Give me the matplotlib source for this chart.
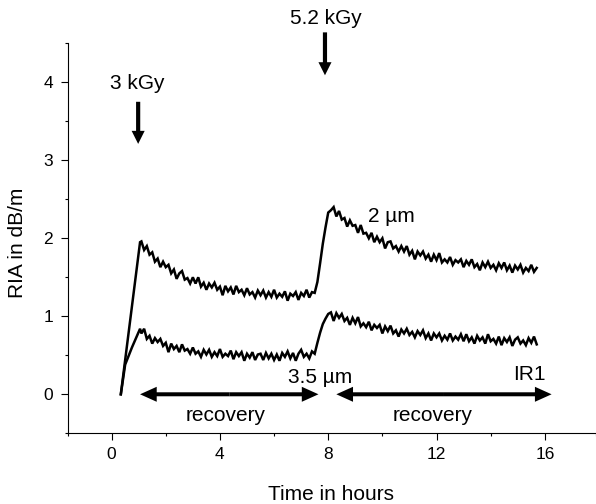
import matplotlib
matplotlib.use("Agg")
import matplotlib.pyplot as plt

plt.rcParams['font.family'] = ['Liberation Sans', 'DejaVu Sans']

# ---- data (time in hours, RIA in dB/m) ----
time_h = [0.34, 0.5, 0.75, 0.9, 1.05,
          1.1, 1.2, 1.3, 1.4, 1.5, 1.6, 1.7, 1.8, 1.9, 2.0,
          2.1, 2.2, 2.3, 2.4, 2.5, 2.6, 2.7, 2.8, 2.9, 3.0,
          3.1, 3.2, 3.3, 3.4, 3.5, 3.6, 3.7, 3.8, 3.9, 4.0,
          4.1, 4.2, 4.3, 4.4, 4.5, 4.6, 4.7, 4.8, 4.9, 5.0,
          5.1, 5.2, 5.3, 5.4, 5.5, 5.6, 5.7, 5.8, 5.9, 6.0,
          6.1, 6.2, 6.3, 6.4, 6.5, 6.6, 6.7, 6.8, 6.9, 7.0,
          7.1, 7.2, 7.3, 7.4,
          7.5, 7.6, 7.7, 7.8, 7.9, 8.0,
          8.1, 8.2, 8.3, 8.4, 8.5, 8.6, 8.7, 8.8, 8.9, 9.0,
          9.1, 9.2, 9.3, 9.4, 9.5, 9.6, 9.7, 9.8, 9.9, 10.0,
          10.1, 10.2, 10.3, 10.4, 10.5, 10.6, 10.7, 10.8, 10.9, 11.0,
          11.1, 11.2, 11.3, 11.4, 11.5, 11.6, 11.7, 11.8, 11.9, 12.0,
          12.1, 12.2, 12.3, 12.4, 12.5, 12.6, 12.7, 12.8, 12.9, 13.0,
          13.1, 13.2, 13.3, 13.4, 13.5, 13.6, 13.7, 13.8, 13.9, 14.0,
          14.1, 14.2, 14.3, 14.4, 14.5, 14.6, 14.7, 14.8, 14.9, 15.0,
          15.1, 15.2, 15.3, 15.4, 15.5, 15.6, 15.7]

ria_2um = [0.00, 0.44, 1.13, 1.54, 1.95,
           1.96, 1.85, 1.90, 1.79, 1.82, 1.70, 1.74, 1.63, 1.70, 1.63,
           1.66, 1.55, 1.60, 1.48, 1.55, 1.58, 1.47, 1.49, 1.42, 1.50,
           1.42, 1.50, 1.38, 1.43, 1.34, 1.42, 1.37, 1.43, 1.34, 1.38,
           1.27, 1.39, 1.32, 1.37, 1.28, 1.39, 1.31, 1.34, 1.27, 1.36,
           1.28, 1.31, 1.24, 1.33, 1.27, 1.33, 1.24, 1.31, 1.25, 1.34,
           1.24, 1.29, 1.25, 1.32, 1.20, 1.29, 1.26, 1.31, 1.21, 1.30,
           1.26, 1.34, 1.24, 1.31,
           1.30, 1.44, 1.68, 1.93, 2.14, 2.33,
           2.36, 2.40, 2.28, 2.35, 2.24, 2.26, 2.15, 2.23, 2.16, 2.17,
           2.07, 2.17, 2.06, 2.07, 2.00, 2.07, 1.95, 2.02, 1.95, 2.00,
           1.87, 1.95, 1.96, 1.87, 1.90, 1.83, 1.90, 1.83, 1.90, 1.79,
           1.84, 1.73, 1.83, 1.78, 1.83, 1.74, 1.79, 1.70, 1.79, 1.72,
           1.81, 1.69, 1.73, 1.69, 1.76, 1.66, 1.72, 1.69, 1.73, 1.63,
           1.71, 1.66, 1.73, 1.63, 1.67, 1.59, 1.69, 1.63, 1.70, 1.62,
           1.66, 1.59, 1.68, 1.62, 1.69, 1.59, 1.65, 1.56, 1.65, 1.60,
           1.66, 1.56, 1.62, 1.58, 1.66, 1.57, 1.62]

ria_35um = [0.00, 0.38, 0.60, 0.72, 0.84,
            0.78, 0.84, 0.71, 0.75, 0.65, 0.72, 0.67, 0.71, 0.62, 0.66,
            0.54, 0.65, 0.58, 0.62, 0.54, 0.64, 0.56, 0.58, 0.52, 0.60,
            0.52, 0.55, 0.48, 0.57, 0.51, 0.57, 0.48, 0.54, 0.49, 0.58,
            0.48, 0.52, 0.49, 0.56, 0.45, 0.54, 0.49, 0.54, 0.43, 0.52,
            0.47, 0.54, 0.44, 0.51, 0.52, 0.44, 0.53, 0.46, 0.52, 0.44,
            0.51, 0.43, 0.53, 0.48, 0.55, 0.46, 0.53, 0.43, 0.52, 0.57,
            0.48, 0.52, 0.46, 0.55,
            0.52, 0.66, 0.79, 0.90, 0.97, 1.03,
            1.05, 0.94, 1.04, 0.98, 1.03, 0.94, 0.98, 0.89, 0.98, 0.91,
            0.99, 0.87, 0.91, 0.86, 0.93, 0.82, 0.89, 0.85, 0.89, 0.78,
            0.87, 0.81, 0.88, 0.78, 0.82, 0.74, 0.83, 0.78, 0.84, 0.76,
            0.80, 0.73, 0.81, 0.76, 0.82, 0.72, 0.78, 0.69, 0.78, 0.73,
            0.78, 0.69, 0.75, 0.70, 0.78, 0.69, 0.74, 0.70, 0.77, 0.68,
            0.77, 0.68, 0.73, 0.65, 0.75, 0.69, 0.73, 0.65, 0.77, 0.68,
            0.71, 0.65, 0.74, 0.63, 0.72, 0.67, 0.73, 0.62, 0.70, 0.73,
            0.65, 0.69, 0.63, 0.72, 0.66, 0.74, 0.64]

x_major = [0, 4, 8, 12, 16]
y_major = [0, 1, 2, 3, 4]

# ---- figure ----
fig = plt.figure(figsize=(5.96, 5.04), dpi=100)
ax = fig.add_axes([0.1146, 0.1403, 0.8854, 0.7738])

ax.plot(time_h, ria_2um, color='black', lw=1.8, solid_joinstyle='miter')
ax.plot(time_h, ria_35um, color='black', lw=1.8, solid_joinstyle='miter')

ax.set_xlim(-1.60, 17.89)
ax.set_ylim(-0.5, 4.5)

for s in ['top', 'right']:
    ax.spines[s].set_visible(False)
for s in ['left', 'bottom']:
    ax.spines[s].set_linewidth(0.8)

ax.set_xticks(x_major)
ax.set_xticks([-1.60, 2, 6, 10, 14, 17.89], minor=True)
ax.set_yticks(y_major)
ax.set_yticks([-0.5, 0.5, 1.5, 2.5, 3.5, 4.5], minor=True)
ax.tick_params(which='major', direction='out', length=5, width=0.8,
               labelsize=12.5, pad=5)
ax.tick_params(axis='y', which='major', pad=6)
ax.tick_params(which='minor', direction='out', length=2.5, width=0.8)

fig.text(0.0294, 0.519, 'RIA in dB/m', rotation=90, ha='center', va='center',
         fontsize=15)
fig.text(0.556, 0.018, 'Time in hours', ha='center', va='center', fontsize=15)

# ---- annotations ----
txt = dict(fontsize=15, clip_on=False, va='baseline', ha='center')
ax.text(0.95, 3.91, '3 kGy', **txt)
ax.text(7.91, 4.75, '5.2 kGy', **txt)
ax.text(10.32, 2.21, '2 µm', **txt)
ax.text(7.70, 0.15, '3.5 µm', **txt)
ax.text(15.42, 0.18, 'IR1', **txt)
ax.text(4.22, -0.345, 'recovery', **txt)
ax.text(11.87, -0.345, 'recovery', **txt)

vstyle = 'simple, head_length=0.47, head_width=0.47, tail_width=0.15'
ax.annotate('', xy=(0.98, 3.21), xytext=(0.98, 3.75),
            arrowprops=dict(arrowstyle=vstyle, mutation_scale=20, color='black',
                            lw=0, shrinkA=0, shrinkB=0), annotation_clip=False)
ax.annotate('', xy=(7.88, 4.09), xytext=(7.88, 4.64),
            arrowprops=dict(arrowstyle=vstyle, mutation_scale=20, color='black',
                            lw=0, shrinkA=0, shrinkB=0), annotation_clip=False)

hstyle = 'simple, head_length=0.5, head_width=0.45, tail_width=0.12'
for (xa, xb) in [(1.05, 7.64), (8.30, 16.25)]:
    xm = (xa + xb) / 2
    for xe in (xa, xb):
        ax.annotate('', xy=(xe, 0.0), xytext=(xm, 0.0),
                    arrowprops=dict(arrowstyle=hstyle, mutation_scale=24,
                                    color='black', lw=0, shrinkA=0, shrinkB=0),
                    annotation_clip=False)

fig.savefig('out.png', dpi=100)
